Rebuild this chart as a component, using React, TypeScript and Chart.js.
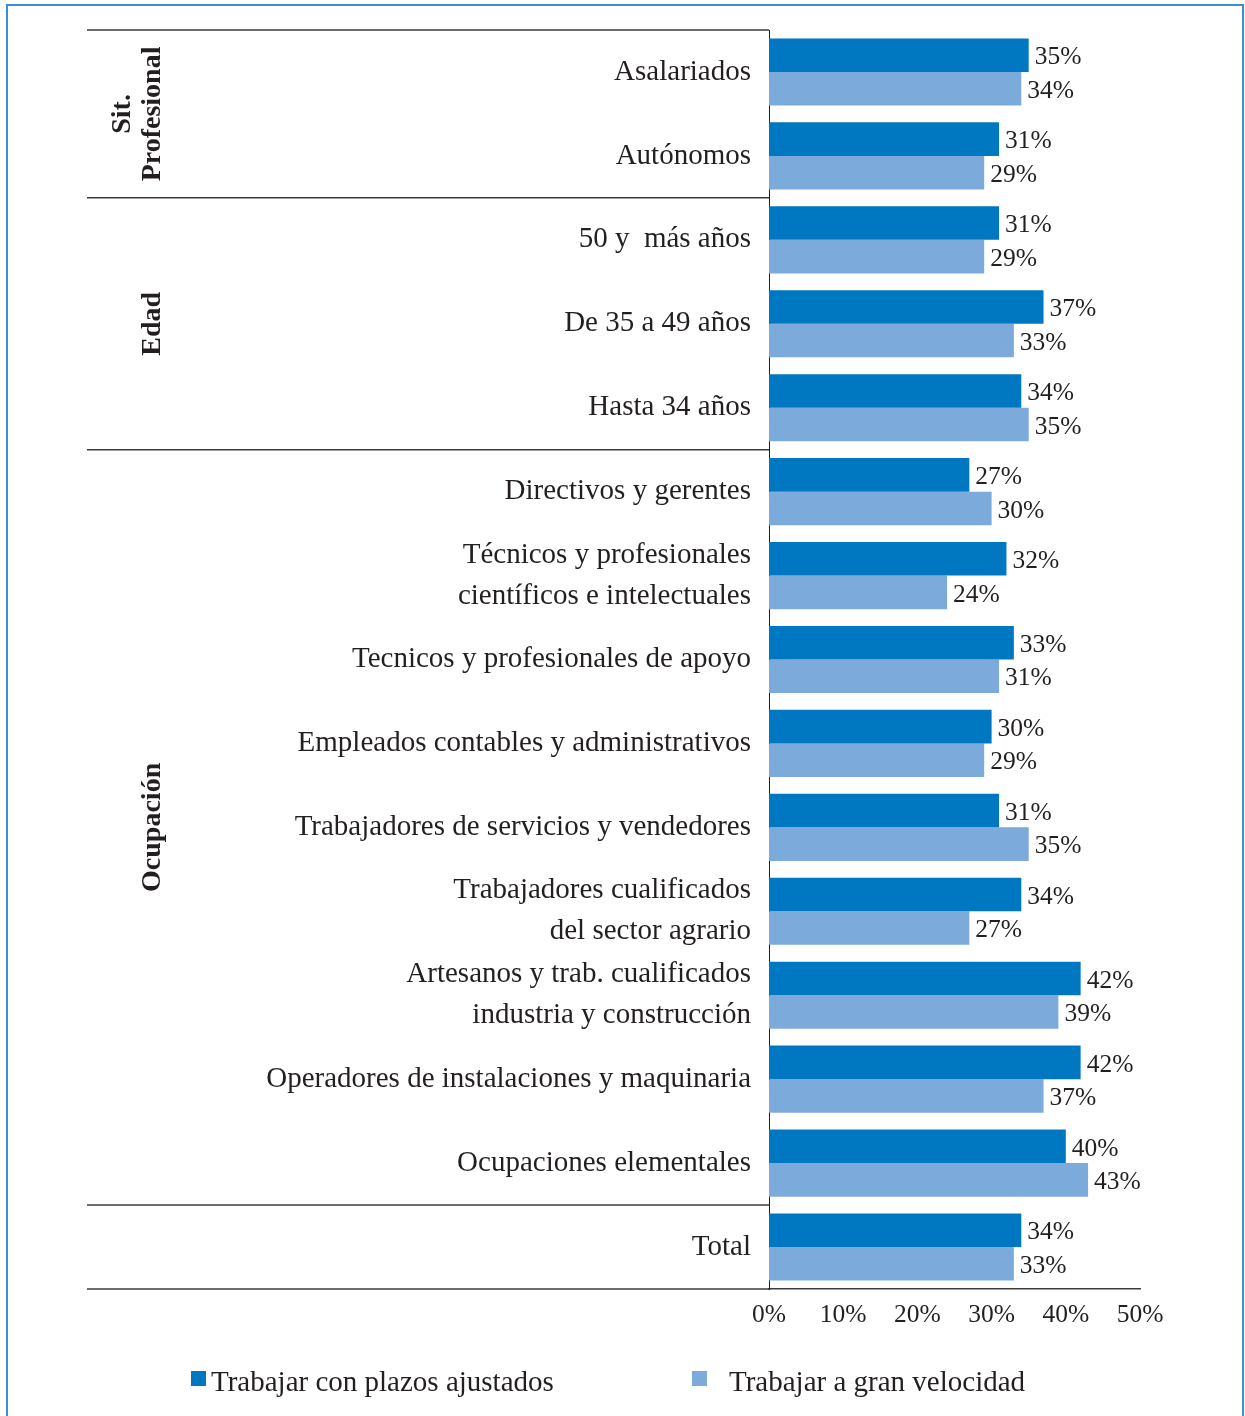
import React, { useEffect, useRef } from "react";
import { Chart, registerables } from "chart.js";

Chart.register(...registerables);

// ---------- DATA ----------
const categories: (string | string[])[] = [
  "Asalariados",
  "Autónomos",
  "50 y  más años",
  "De 35 a 49 años",
  "Hasta 34 años",
  "Directivos y gerentes",
  ["Técnicos y profesionales", "científicos e intelectuales"],
  "Tecnicos y profesionales de apoyo",
  "Empleados contables y administrativos",
  "Trabajadores de servicios y vendedores",
  ["Trabajadores cualificados", "del sector agrario"],
  ["Artesanos y trab. cualificados", "industria y construcción"],
  "Operadores de instalaciones y maquinaria",
  "Ocupaciones elementales",
  "Total",
];
const plazosAjustados = [35, 31, 31, 37, 34, 27, 32, 33, 30, 31, 34, 42, 42, 40, 34];
const granVelocidad = [34, 29, 29, 33, 35, 30, 24, 31, 29, 35, 27, 39, 37, 43, 33];
const seriesNames = ["Trabajar con plazos ajustados", "Trabajar a gran velocidad"];
const groupNames: string[][] = [["Sit.", "Profesional"], ["Edad"], ["Ocupación"], []];
const groupStarts = [0, 2, 5, 14];
const xTickValues = [0, 10, 20, 30, 40, 50];

// ---------- STYLE ----------
const FONT = "'Liberation Serif', 'Times New Roman', serif";
const TEXT = "#231f20";
const DARK = "#0078c1";
const LIGHT = "#7baadb";
const LINE = "#3c3c3c";

const groupPlugin = {
  id: "groupPlugin",
  afterDraw(chart: any) {
    const { ctx, chartArea } = chart;
    const y = chart.scales.y;
    const step = y.getPixelForValue(1) - y.getPixelForValue(0);
    const leftX = 87;
    ctx.save();
    ctx.strokeStyle = LINE;
    ctx.lineWidth = 1.5;
    const bounds = groupStarts.map((s) => y.getPixelForValue(s) - step / 2);
    bounds.push(chartArea.bottom);
    bounds.forEach((b: number) => {
      ctx.beginPath();
      ctx.moveTo(leftX, b);
      ctx.lineTo(chartArea.left, b);
      ctx.stroke();
    });
    ctx.fillStyle = TEXT;
    ctx.font = `bold 28px ${FONT}`;
    ctx.textAlign = "center";
    ctx.textBaseline = "middle";
    groupNames.forEach((lines, g) => {
      const cy = (bounds[g] + bounds[g + 1]) / 2;
      const n = lines.length;
      lines.forEach((line, i) => {
        const cx = 153 - (n - 1 - i) * 30;
        ctx.save();
        ctx.translate(cx, cy);
        ctx.rotate(-Math.PI / 2);
        ctx.fillText(line, 0, 0);
        ctx.restore();
      });
    });
    ctx.restore();
  },
};

const valueLabelPlugin = {
  id: "valueLabelPlugin",
  afterDatasetsDraw(chart: any) {
    const { ctx } = chart;
    ctx.save();
    ctx.fillStyle = TEXT;
    ctx.font = `25.5px ${FONT}`;
    ctx.textAlign = "left";
    ctx.textBaseline = "middle";
    chart.data.datasets.forEach((ds: any, i: number) => {
      const meta = chart.getDatasetMeta(i);
      meta.data.forEach((bar: any, j: number) => {
        ctx.fillText(`${ds.data[j]}%`, bar.x + 6, bar.y + 2.5);
      });
    });
    ctx.restore();
  },
};

const legendPlugin = {
  id: "customLegend",
  afterDraw(chart: any) {
    const { ctx } = chart;
    const boxX = [191, 692];
    const textX = [211, 729];
    ctx.save();
    ctx.font = `29px ${FONT}`;
    ctx.textAlign = "left";
    ctx.textBaseline = "middle";
    chart.data.datasets.forEach((ds: any, i: number) => {
      ctx.fillStyle = ds.backgroundColor;
      ctx.fillRect(boxX[i], 1371, 15, 15);
      ctx.fillStyle = TEXT;
      ctx.fillText(ds.label, textX[i], 1383);
    });
    ctx.restore();
  },
};

export default function App() {
  const ref = useRef<HTMLCanvasElement | null>(null);

  useEffect(() => {
    if (!ref.current) return;
    const chart = new Chart(ref.current, {
      type: "bar",
      data: {
        labels: categories as any,
        datasets: [
          {
            label: seriesNames[0],
            data: plazosAjustados,
            backgroundColor: DARK,
            categoryPercentage: 0.8,
            barPercentage: 1.0,
          },
          {
            label: seriesNames[1],
            data: granVelocidad,
            backgroundColor: LIGHT,
            categoryPercentage: 0.8,
            barPercentage: 1.0,
          },
        ],
      },
      options: {
        indexAxis: "y",
        responsive: false,
        maintainAspectRatio: false,
        animation: false,
        layout: { padding: { top: 30, left: 0, right: 105, bottom: 0 } },
        plugins: {
          legend: { display: false },
          tooltip: { enabled: false },
        },
        scales: {
          x: {
            min: xTickValues[0],
            max: xTickValues[xTickValues.length - 1],
            afterBuildTicks: (s: any) => {
              s.ticks = xTickValues.map((v) => ({ value: v }));
            },
            ticks: {
              callback: (v: any) => `${v}%`,
              font: { family: FONT, size: 25.5 },
              color: TEXT,
              padding: 11,
              maxRotation: 0,
            },
            grid: { display: false, drawTicks: false },
            border: { display: true, color: LINE, width: 1.5 },
            afterFit: (s: any) => {
              s.height = 127;
              s.paddingLeft = 0;
              s.paddingRight = 0;
            },
          },
          y: {
            ticks: {
              font: { family: FONT, size: 29, lineHeight: 1.42 },
              color: TEXT,
              padding: 18,
              autoSkip: false,
            },
            grid: { display: false, drawTicks: false },
            border: { display: true, color: TEXT, width: 1 },
            afterFit: (s: any) => {
              s.width = 769;
              s.paddingTop = 0;
              s.paddingBottom = 0;
            },
          },
        },
      } as any,
      plugins: [groupPlugin, valueLabelPlugin, legendPlugin],
    });
    return () => chart.destroy();
  }, []);

  return (
    <div style={{ position: "absolute", left: 0, top: 0, width: 1245, height: 1416, background: "#fff", overflow: "hidden" }}>
      <div
        style={{
          position: "absolute",
          left: 6,
          top: 4,
          width: 1238,
          height: 1440,
          borderLeft: "2px solid #3d8fd3",
          borderTop: "2px solid #3d8fd3",
          borderRight: "2px solid #3d8fd3",
          boxSizing: "border-box",
        }}
      />
      <canvas ref={ref} width={1245} height={1416} style={{ position: "absolute", left: 0, top: 0 }} />
    </div>
  );
}
